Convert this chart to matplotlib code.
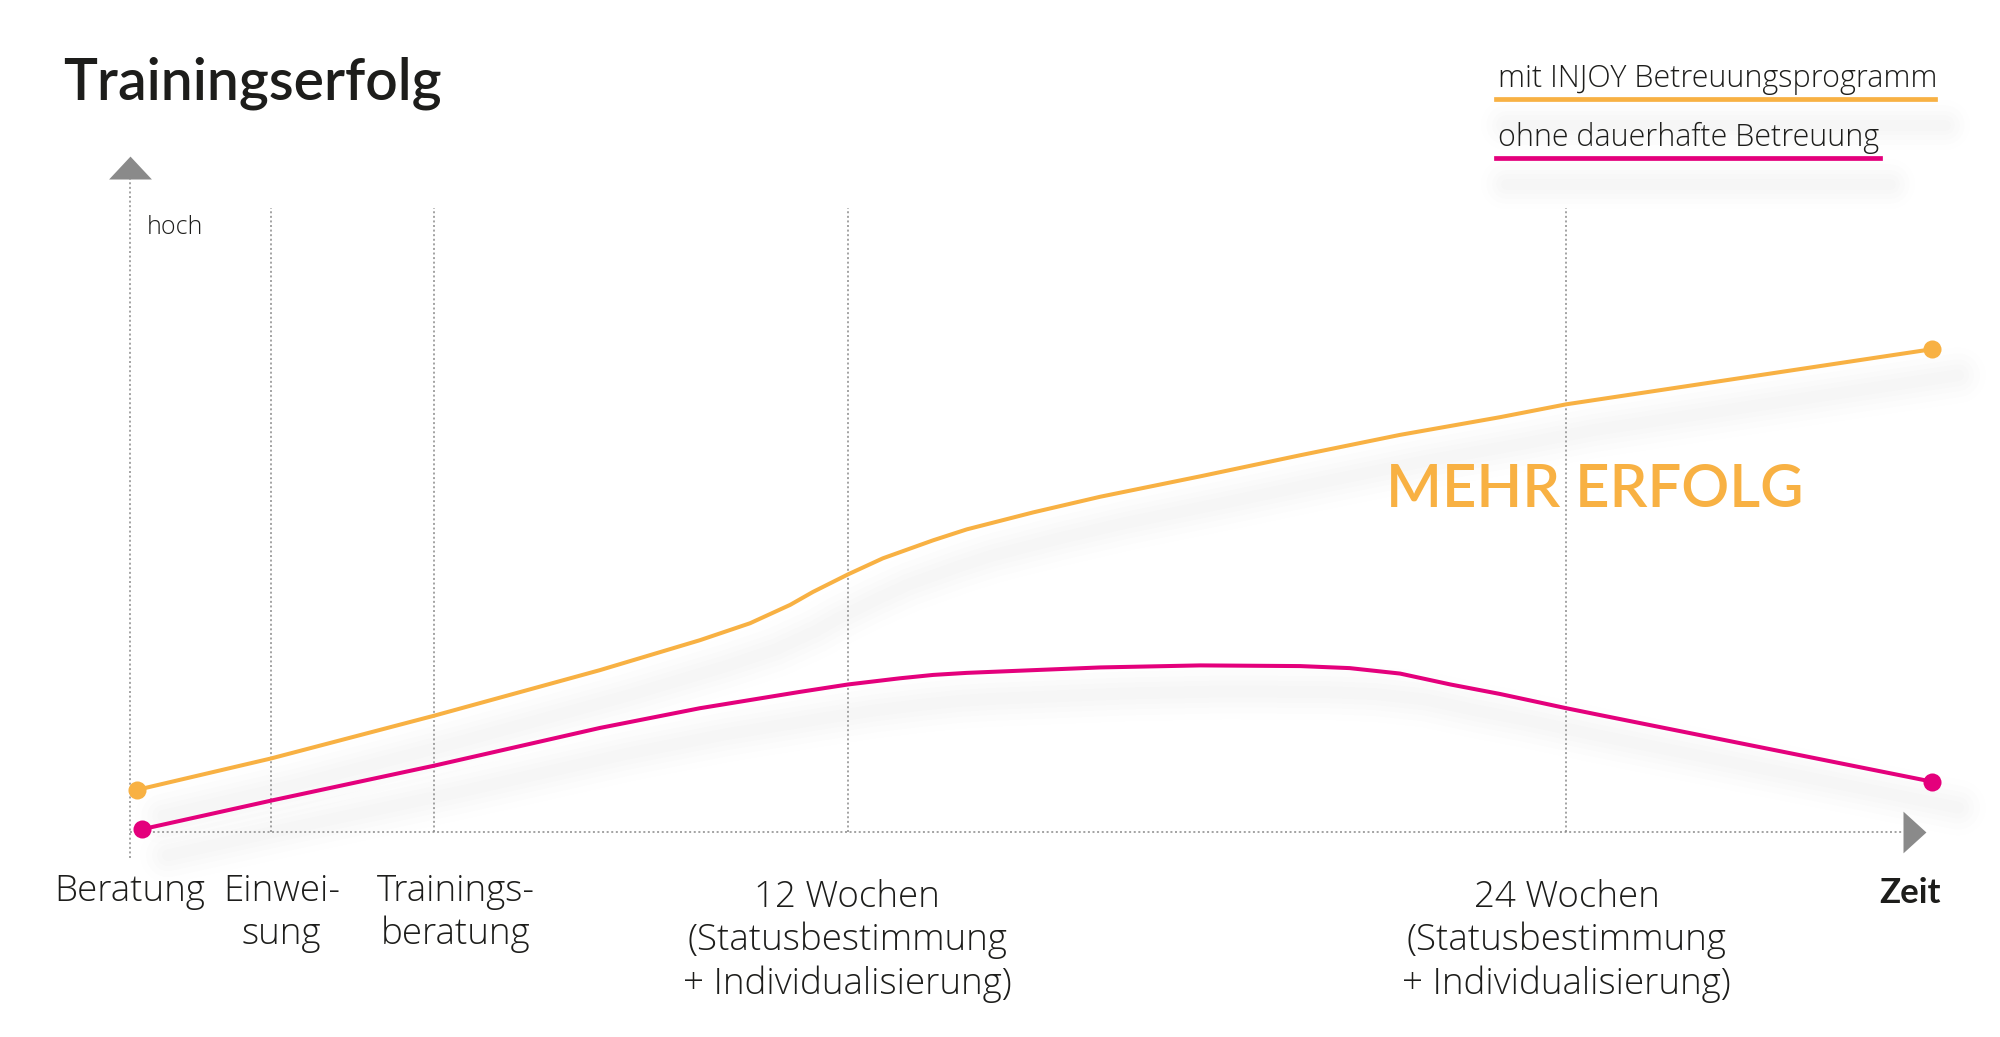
import matplotlib
matplotlib.use("Agg")
import matplotlib.pyplot as plt
from matplotlib import transforms
from matplotlib.lines import Line2D

# ---------------- data ----------------
title = "Trainingserfolg"
y_label = "hoch"
x_label = "Zeit"
highlight = "MEHR ERFOLG"
series_labels = ["mit INJOY Betreuungsprogramm", "ohne dauerhafte Betreuung"]

phase_labels = ["Beratung", "Einwei-\nsung", "Trainings-\nberatung",
                "12 Wochen\n(Statusbestimmung\n+ Individualisierung)",
                "24 Wochen\n(Statusbestimmung\n+ Individualisierung)"]
phase_weeks = [0.0, 2.35, 5.08, 12.0, 24.0]

weeks_injoy = [0.12, 2.35, 5.08, 7.85, 9.52, 10.36, 11.03, 11.41, 12.0, 12.58,
               13.42, 13.98, 15.09, 16.21, 17.88, 19.55, 21.22, 22.89, 24.0, 30.11]
success_injoy = [6.2, 10.8, 17.1, 23.8, 28.2, 30.7, 33.4, 35.3, 37.9, 40.25,
                 42.9, 44.5, 47.0, 49.3, 52.3, 55.4, 58.4, 61.0, 62.9, 71.0]

weeks_ohne = [0.2, 2.35, 5.08, 7.85, 9.52, 11.19, 12.0, 12.86, 13.42, 13.98, 15.09,
              16.21, 17.88, 19.55, 20.38, 21.22, 22.06, 22.89, 24.0, 24.56, 30.11]
success_ohne = [0.4, 4.6, 9.75, 15.3, 18.2, 20.6, 21.7, 22.6, 23.1, 23.4, 23.8,
                24.2, 24.5, 24.4, 24.1, 23.3, 21.7, 20.3, 18.2, 17.2, 7.4]

# ---------------- style ----------------
ORANGE = "#F8B143"
PINK = "#E4007C"
GREY = "#8a8a8a"
TEXT = "#1d1d1b"
BODY = ["Open Sans", "DejaVu Sans"]
HEAD = ["Lato", "DejaVu Sans"]
plt.rcParams["font.family"] = BODY

W, H = 2000, 1037
px_per_week = 59.85
x0_px = 130
px_per_unit = 6.8
y0_px = 832

fig = plt.figure(figsize=(W / 100, H / 100), dpi=100)
ax = fig.add_axes([0, 0, 1, 1])
ax.set_xlim(-x0_px / px_per_week, (W - x0_px) / px_per_week)
ax.set_ylim(-(H - y0_px) / px_per_unit, y0_px / px_per_unit)
ax.axis("off")


def fpos(xp, yp):
    return xp / W, 1 - yp / H


def shadow(x, y, base_transform, dx=26, dy=-26, scale=1.0):
    tr = base_transform + transforms.ScaledTranslation(dx / 100, dy / 100, fig.dpi_scale_trans)
    for lw_px, a in [(56, 0.005), (44, 0.006), (32, 0.006), (22, 0.007), (12, 0.007)]:
        ax.add_line(Line2D(x, y, color="black", alpha=a, lw=lw_px * 0.72 * scale,
                           solid_capstyle="round", solid_joinstyle="round",
                           transform=tr, zorder=1))


# axes (dotted)
dot = (0, (1.3, 1.7))
axis_top = 96.0
axis_right = 29.62
guide_top = 91.8
ax.plot([0, 0], [-3.8, axis_top], color=GREY, lw=1.1, ls=dot, zorder=2)
ax.plot([0, axis_right], [0, 0], color=GREY, lw=1.1, ls=dot, zorder=2)
for w in phase_weeks[1:]:
    ax.plot([w, w], [0, guide_top], color=GREY, lw=1.1, ls=dot, zorder=2)

up_arrow = [(-1, 0), (1, 0), (0, 1.07), (-1, 0)]
right_arrow = [(0, -1), (0, 1), (1.1, 0), (0, -1)]
ax.plot(0, axis_top, marker=up_arrow, ms=33, color=GREY, mew=0, zorder=3)
ax.plot(axis_right, 0, marker=right_arrow, ms=33, color=GREY, mew=0, zorder=3)

# shadows + series
shadow(weeks_injoy, success_injoy, ax.transData)
shadow(weeks_ohne, success_ohne, ax.transData)
for xs, ys, c in [(weeks_injoy, success_injoy, ORANGE), (weeks_ohne, success_ohne, PINK)]:
    ax.plot(xs, ys, color=c, lw=2.9, solid_joinstyle="round", solid_capstyle="round", zorder=5)
    ax.plot([xs[0], xs[-1]], [ys[0], ys[-1]], "o", color=c, ms=13, mew=0, zorder=6)

# texts
fig.text(*fpos(63, 100), title, fontsize=41, fontweight="semibold", family=HEAD,
         color=TEXT, va="baseline", ha="left")
fig.text(*fpos(147, 234), y_label, fontsize=18, fontweight="light", color=TEXT,
         va="baseline", ha="left")
fig.text(*fpos(1941, 903), x_label, fontsize=25, fontweight="bold", family=HEAD,
         color=TEXT, va="baseline", ha="right")
fig.text(*fpos(1386, 507), highlight, fontsize=43, fontweight="semibold", family=HEAD,
         color=ORANGE, va="baseline", ha="left")

label_dx = [0, 11, 22, -1, 0]
label_y = [901, 901, 901, 907, 907]
line_step = 43.3
for lab, w, dxp, yp in zip(phase_labels, phase_weeks, label_dx, label_y):
    tr = transforms.blended_transform_factory(ax.transData, fig.transFigure) + \
        transforms.ScaledTranslation(dxp / 100, 0, fig.dpi_scale_trans)
    for i, line in enumerate(lab.split("\n")):
        ax.text(w, 1 - (yp + i * line_step) / H, line, transform=tr, fontsize=26.5,
                fontweight="light", color=TEXT, ha="center", va="baseline")

# legend
leg_ends = [1935, 1880]
for i, (lab, c, xe) in enumerate(zip(series_labels, [ORANGE, PINK], leg_ends)):
    yb = 87 + i * 59.5
    yl = 98.5 + i * 59.3
    fig.text(*fpos(1498, yb), lab, fontsize=22, fontweight="light", color=TEXT,
             va="baseline", ha="left")
    xs = [1496 / W, xe / W]
    ys = [1 - yl / H] * 2
    shadow(xs, ys, fig.transFigure, dx=10, dy=-26, scale=0.9)
    ax.add_line(Line2D(xs, ys, color=c, lw=3.4, transform=fig.transFigure, zorder=5))

fig.savefig("out.png", dpi=100, facecolor="white")
